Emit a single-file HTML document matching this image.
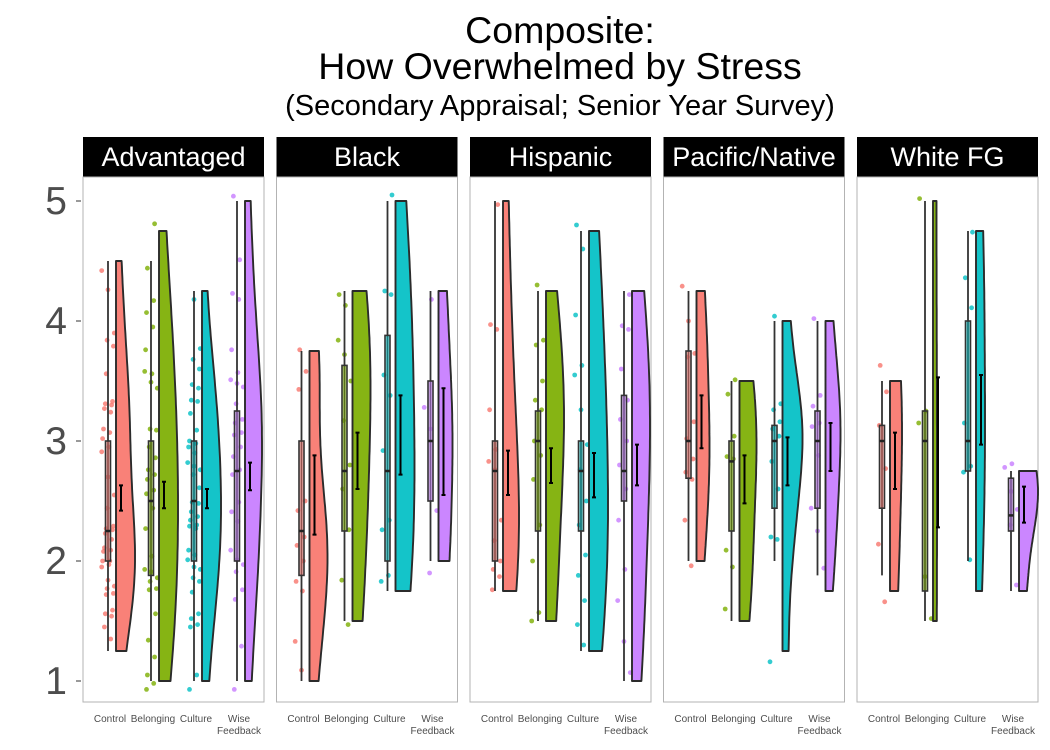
<!DOCTYPE html>
<html><head><meta charset="utf-8"><style>
body{margin:0;background:#fff;}
svg{display:block;font-family:"Liberation Sans",sans-serif;}
</style></head><body>
<svg id="chart" width="1050" height="750">
<text x="560" y="43" font-size="37.5" text-anchor="middle" fill="#000">Composite:</text>
<text x="560" y="79" font-size="37.5" text-anchor="middle" fill="#000">How Overwhelmed by Stress</text>
<text x="560" y="115" font-size="29" text-anchor="middle" fill="#000">(Secondary Appraisal; Senior Year Survey)</text>
<g id="plot"></g>
</svg>
<script>
const panels = ["Advantaged","Black","Hispanic","Pacific/Native","White FG"];
const groups = ["Control","Belonging","Culture","Wise Feedback"];
const yTicks = [1,2,3,4,5];
const colors = ["#F8766D","#7CAE00","#00BFC4","#C77CFF"];
// box stats [panel][group] = [min, q1, median, q3, max]
const boxStats = [
 [[1.25,2.0,2.25,3.0,4.5],[1.0,1.88,2.5,3.0,4.5],[1.0,2.0,2.5,3.0,4.25],[1.0,2.0,2.75,3.25,5.0]],
 [[1.0,1.88,2.25,3.0,3.75],[1.5,2.25,2.75,3.63,4.25],[1.75,2.0,2.75,3.88,5.0],[2.0,2.5,3.0,3.5,4.25]],
 [[1.75,2.0,2.75,3.0,5.0],[1.5,2.25,3.0,3.25,4.25],[1.25,2.25,2.75,3.0,4.75],[1.0,2.5,2.75,3.38,4.25]],
 [[2.0,2.69,3.0,3.75,4.25],[1.5,2.25,2.83,3.0,3.5],[2.0,2.44,3.0,3.13,4.0],[1.88,2.44,3.0,3.25,4.0]],
 [[1.88,2.44,3.0,3.13,3.5],[1.5,1.75,3.0,3.25,5.0],[2.0,2.75,3.0,4.0,4.75],[1.75,2.25,2.38,2.69,2.75]]
];
// violin range [lo, hi]
const violinRange = [
 [[1.25,4.5],[1.0,4.75],[1.0,4.25],[1.0,5.0]],
 [[1.0,3.75],[1.5,4.25],[1.75,5.0],[2.0,4.25]],
 [[1.75,5.0],[1.5,4.25],[1.25,4.75],[1.0,4.25]],
 [[2.0,4.25],[1.5,3.5],[1.25,4.0],[1.75,4.0]],
 [[1.75,3.5],[1.5,5.0],[1.75,4.75],[1.75,2.75]]
];
// mean CI [low, high]
const ciVals = [
 [[2.42,2.63],[2.44,2.66],[2.44,2.6],[2.59,2.82]],
 [[2.22,2.88],[2.6,3.07],[2.72,3.38],[2.55,3.44]],
 [[2.55,2.92],[2.65,2.94],[2.53,2.9],[2.63,2.97]],
 [[2.94,3.38],[2.48,2.88],[2.63,3.03],[2.75,3.15]],
 [[2.6,3.07],[2.28,3.53],[2.97,3.55],[2.32,2.62]]
];
// raw observations (jittered) [panel][group]
const pointVals = [
 [[4.42,4.26,3.9,3.84,3.79,3.56,3.33,3.31,3.3,3.27,3.24,3.1,3.07,3.02,2.95,2.91,2.7,2.55,2.44,2.29,2.27,2.26,2.23,2.18,2.11,2.09,2.08,2.0,2.0,1.97,1.95,1.84,1.79,1.77,1.73,1.72,1.59,1.56,1.54,1.45,1.35],
  [4.81,4.44,4.17,4.07,3.95,3.76,3.56,3.58,3.49,3.44,3.1,3.09,2.95,2.86,2.76,2.72,2.68,2.59,2.56,2.44,2.27,2.04,1.93,1.91,1.86,1.83,1.77,1.76,1.56,1.34,1.2,1.05,0.98,0.93],
  [4.18,3.77,3.68,3.6,3.47,3.44,3.34,3.33,3.23,3.09,3.0,2.98,2.95,2.9,2.82,2.79,2.76,2.72,2.61,2.49,2.48,2.41,2.37,2.34,2.3,2.29,2.27,2.09,2.05,2.01,1.95,1.93,1.86,1.83,1.74,1.56,1.52,1.47,1.45,1.05,0.93],
  [5.04,4.51,4.23,4.18,3.76,3.57,3.51,3.48,3.45,3.31,3.18,3.15,3.07,3.05,2.95,2.87,2.76,2.72,2.49,2.41,2.33,2.09,2.01,1.97,1.91,1.76,1.68,1.29,0.93]],
 [[3.76,3.58,3.43,2.5,2.42,2.2,2.13,2.0,1.83,1.75,1.33,1.09],
  [4.22,4.13,3.84,3.72,3.5,3.17,2.8,2.6,2.26,1.84,1.47],
  [5.05,4.25,4.22,3.55,3.38,2.92,2.34,2.26,1.88,1.83],
  [4.18,3.28,3.1,2.42,1.9]],
 [[4.97,3.97,3.93,3.26,2.93,2.83,2.76,2.34,2.17,2.0,1.93,1.87,1.76],
  [4.3,3.84,3.8,3.5,3.34,3.26,3.0,2.88,2.68,2.3,2.0,1.57,1.5],
  [4.8,4.6,4.05,3.63,3.55,3.26,2.97,2.76,2.5,2.3,2.05,1.88,1.67,1.47,1.3],
  [4.22,3.96,3.93,3.6,3.34,3.18,3.0,2.8,2.6,2.34,1.93,1.67,1.33,1.07]],
 [[4.29,4.0,3.73,3.7,3.16,3.02,2.85,2.74,2.68,2.34,1.96],
  [3.51,3.39,3.04,2.87,2.85,2.09,1.95,1.6],
  [4.04,3.31,3.26,3.16,3.1,3.04,2.83,2.6,2.2,2.18,1.16],
  [4.02,3.38,3.29,3.15,3.12,2.88,2.44,2.25,1.94]],
 [[3.63,3.41,3.13,2.77,2.14,1.66],
  [5.02,3.25,3.15,1.87,1.52],
  [4.74,4.36,4.11,3.15,2.79,2.74,2.01],
  [2.81,2.78,2.58,2.43,2.3,1.8]]
];
// peak half-violin widths (px, style)
const violinPx = [[19,19,19,17],[18,18,19,14],[16,18,19,18],[13,17,20,15],[12,4,9,19]];

const NS="http://www.w3.org/2000/svg";
const plot=document.getElementById('plot');
function mk(tag,attrs,parent){const e=document.createElementNS(NS,tag);for(const k in attrs)e.setAttribute(k,attrs[k]);(parent||plot).appendChild(e);return e;}
const yTop=177,yBot=702;
function yS(v){return 681-(v-1)*120;}
function panelLeft(p){return 83+p*193.5;}
function boxX(p,g){return panelLeft(p)+25+43*g;}

yTicks.forEach(t=>{
  const tl=mk('text',{x:67,y:yS(t)+13,'font-size':39,'text-anchor':'end',fill:'#4d4d4d'});
  tl.textContent=t;
  
  
  const tk=mk('line',{x1:76,x2:81,y1:yS(t),y2:yS(t),stroke:'#333','stroke-width':1});
  
  
});

function kde(vals,lo,hi){
  const n=vals.length;const m=vals.reduce((a,b)=>a+b,0)/n;
  const sd=Math.sqrt(vals.reduce((a,b)=>a+(b-m)*(b-m),0)/Math.max(1,n-1));
  const s=[...vals].sort((a,b)=>a-b);
  const q=f=>{const i=(n-1)*f,l=Math.floor(i),h=Math.ceil(i);return s[l]+(s[h]-s[l])*(i-l);};
  const iqr=(q(0.75)-q(0.25))/1.34;
  let spread=Math.min(sd,iqr>0?iqr:sd);if(!(spread>0))spread=sd||0.3;
  const bw=Math.max(0.3,1.35*0.9*spread*Math.pow(n,-0.2));
  const out=[];const N=70;
  for(let i=0;i<=N;i++){const y=lo+(hi-lo)*i/N;let d=0;vals.forEach(v=>{const z=(y-v)/bw;d+=Math.exp(-0.5*z*z);});out.push([y,d]);}
  const mx=Math.max(...out.map(o=>o[1]));
  return out.map(o=>[o[0],o[1]/mx]);
}

panels.forEach((name,p)=>{
  const pl=panelLeft(p);
  const g=mk('g',{});
  
  
  const strip=mk('rect',{x:pl,y:137,width:181,height:40,fill:'#000'},g);
  
  
  const st=mk('text',{x:pl+90.5,y:166,'font-size':27,'text-anchor':'middle',fill:'#fff'},g);
  st.textContent=name;
  
  
  const border=mk('rect',{x:pl,y:yTop,width:181,height:yBot-yTop,fill:'none',stroke:'#b3b3b3','stroke-width':1},g);
  
  
  groups.forEach((gn,gi)=>{
    const bx=boxX(p,gi);const col=colors[gi];
    const bs=boxStats[p][gi];const vr=violinRange[p][gi];const pts=pointVals[p][gi];
    pts.forEach((v,k)=>{
      const off=((k*37+gi*11+p*5)%15)-7;
      const c=mk('circle',{cx:bx+off*0.9,cy:yS(v),r:2.4,fill:col,'fill-opacity':0.8},g);
      
      
    });
    const wl=mk('line',{x1:bx,x2:bx,y1:yS(bs[4]),y2:yS(bs[0]),stroke:'#333','stroke-width':1.8},g);
    
    
    const br=mk('rect',{x:bx-2.5,y:yS(bs[3]),width:5,height:yS(bs[1])-yS(bs[3]),fill:col,'fill-opacity':0.5,stroke:'#333','stroke-width':1.6},g);
    
    
    const md=mk('line',{x1:bx-2.5,x2:bx+2.5,y1:yS(bs[2]),y2:yS(bs[2]),stroke:'#222','stroke-width':2.5},g);
    
    
    const dens=kde(pts,vr[0],vr[1]);const vx=bx+8;const W=violinPx[p][gi];
    let d='M'+vx+','+yS(vr[1]);
    dens.slice().reverse().forEach(o=>{d+=' L'+(vx+3+o[1]*(W-3)).toFixed(1)+','+yS(o[0]).toFixed(1);});
    d+=' L'+vx+','+yS(vr[0])+' Z';
    const vp=mk('path',{d:d,fill:col,'fill-opacity':0.92,stroke:'#2b2b2b','stroke-width':1.9,'stroke-linejoin':'round'},g);
    
    
    const ci=ciVals[p][gi];const ex=bx+13;
    const eb=mk('path',{d:`M${ex-2},${yS(ci[1])} H${ex+2} M${ex},${yS(ci[1])} V${yS(ci[0])} M${ex-2},${yS(ci[0])} H${ex+2}`,stroke:'#000','stroke-width':2,fill:'none'},g);
    
    
    const lx=bx+2;
    if(gn==='Wise Feedback'){
      const t1=mk('text',{x:lx,y:722,'font-size':10,'text-anchor':'middle',fill:'#4d4d4d'},g);t1.textContent='Wise';
      
      
      const t2=mk('text',{x:lx,y:734,'font-size':10,'text-anchor':'middle',fill:'#4d4d4d'},g);t2.textContent='Feedback';
      
      
    } else {
      const t=mk('text',{x:lx,y:722,'font-size':10,'text-anchor':'middle',fill:'#4d4d4d'},g);t.textContent=gn;
      
      
    }
  });
});
</script>
</body></html>
